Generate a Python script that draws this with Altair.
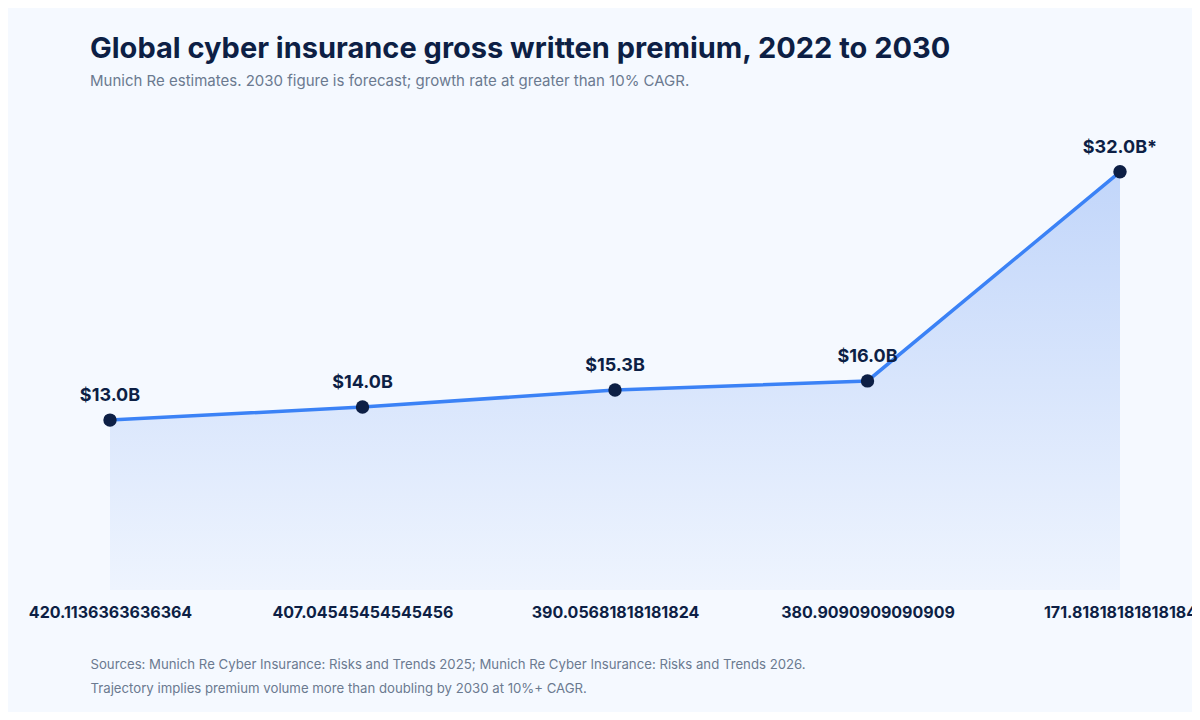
import altair as alt
import pandas as pd

tick_labels = ["420.1136363636364", "407.04545454545456", "390.05681818181824",
               "380.9090909090909", "171.81818181818184"]
values = [13.0, 14.0, 15.3, 16.0, 32.0]
value_labels = ["$13.0B", "$14.0B", "$15.3B", "$16.0B", "$32.0B*"]

df = pd.DataFrame({"cat": tick_labels, "value": values, "label": value_labels})

FONT = "Inter"
NAVY = "#0d1f45"
GREY = "#6b7a90"

x = alt.X(
    "cat:O",
    sort=None,
    scale=alt.Scale(type="point", padding=0),
    axis=alt.Axis(
        labelAngle=0, ticks=False, domain=False, grid=False,
        labelFontSize=16, labelFontWeight="bold", labelColor=NAVY, labelFont=FONT,
        labelPadding=14, labelLimit=400, labelOverlap=False,
        title=["Sources: Munich Re Cyber Insurance: Risks and Trends 2025; Munich Re Cyber Insurance: Risks and Trends 2026.",
               "Trajectory implies premium volume more than doubling by 2030 at 10%+ CAGR."],
        titleFont=FONT, titleFontSize=13.2, titleFontWeight="normal", titleColor=GREY,
        titleAlign="left", titleBaseline="top", titleAngle=0,
        titleX=-20, titleY=68, titleLineHeight=24,
    ),
)
y = alt.Y("value:Q", scale=alt.Scale(domain=[0, 35.2], nice=False, zero=True), axis=None)

base = alt.Chart(df).encode(x=x, y=y)

area = base.mark_area(
    color=alt.Gradient(
        gradient="linear",
        stops=[alt.GradientStop(color="#c2d6fa", offset=0),
               alt.GradientStop(color="#eef4fe", offset=1)],
        x1=1, x2=1, y1=0, y2=1,
    )
)
line = base.mark_line(color="#3b82f6", strokeWidth=3.5)
points = base.mark_circle(size=180, color=NAVY, opacity=1)
texts = base.mark_text(dy=-24, fontSize=18, fontWeight="bold", color=NAVY, font=FONT).encode(text="label:N")

chart = alt.layer(area, line, points, texts).properties(
    width=1010,
    height=460,
    autosize=alt.AutoSizeParams(type="none"),
    padding={"left": 102, "top": 122, "right": 72, "bottom": 122},
    background="#f5f9ff",
    title=alt.TitleParams(
        text="Global cyber insurance gross written premium, 2022 to 2030",
        subtitle="Munich Re estimates. 2030 figure is forecast; growth rate at greater than 10% CAGR.",
        anchor="start", frame="group", dx=-20, offset=41,
        font=FONT, fontSize=29, fontWeight="bold", color=NAVY,
        subtitleFont=FONT, subtitleFontSize=15, subtitleColor=GREY, subtitlePadding=10,
    ),
).configure_view(stroke=None)

chart.save("out.html", embed_options={"renderer": "svg", "actions": False})
